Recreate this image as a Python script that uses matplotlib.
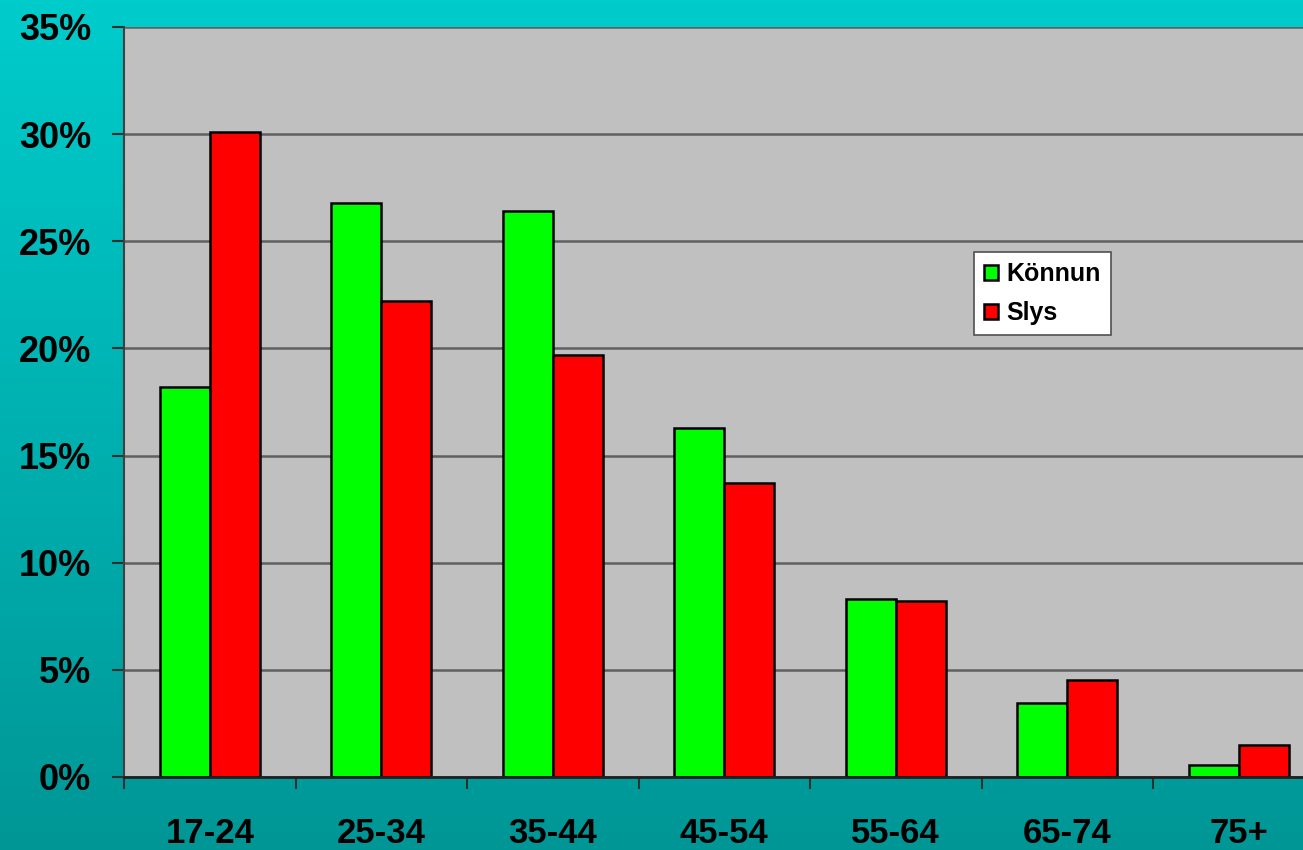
import numpy as np
import matplotlib
matplotlib.use("Agg")
import matplotlib.pyplot as plt
from matplotlib.ticker import FixedLocator, FixedFormatter

categories = ["17-24", "25-34", "35-44", "45-54", "55-64", "65-74", "75+"]
konnun = [18.2, 26.8, 26.4, 16.3, 8.3, 3.45, 0.55]
slys = [30.1, 22.2, 19.7, 13.7, 8.2, 4.55, 1.5]
yticks = [0, 5, 10, 15, 20, 25, 30, 35]
ytick_labels = [f"{v}%" for v in yticks]

plt.rcParams['font.family'] = ['Liberation Sans', 'DejaVu Sans']

W, H = 1303, 850
fig = plt.figure(figsize=(W / 100, H / 100), dpi=100)

# gradient background
bg = fig.add_axes([0, 0, 1, 1], zorder=-10)
top = np.array([0, 204, 204]) / 255
bot = np.array([0, 150, 150]) / 255
t = np.linspace(0, 1, 256)[:, None]
grad = top[None, :] * (1 - t) + bot[None, :] * t
bg.imshow(grad[:, None, :], aspect='auto', extent=[0, 1, 0, 1])
bg.axis('off')

left = 124 / W
bottom = (H - 777) / H
height = 750 / H
ax = fig.add_axes([left, bottom, 1 - left, height])
ax.set_facecolor('#c0c0c0')

x = np.arange(len(categories))
bw = 50 / 171.5
ax.bar(x - bw / 2, konnun, width=bw, color='#00ff00', edgecolor='black', linewidth=1.8, label='Könnun', zorder=3)
ax.bar(x + bw / 2, slys, width=bw, color='#ff0000', edgecolor='black', linewidth=1.8, label='Slys', zorder=3)

ax.set_ylim(0, 35)
ax.set_xlim(-0.5, (1303 - 124) / 171.5 - 0.5)

ax.yaxis.set_major_locator(FixedLocator(yticks))
ax.yaxis.set_major_formatter(FixedFormatter(ytick_labels))
ax.grid(axis='y', color='#606060', linewidth=1.8, zorder=1)
ax.set_axisbelow(True)

ax.xaxis.set_major_locator(FixedLocator(np.arange(len(categories) + 1) - 0.5))
ax.xaxis.set_major_formatter(FixedFormatter([""] * (len(categories) + 1)))
ax.xaxis.set_minor_locator(FixedLocator(x))
ax.xaxis.set_minor_formatter(FixedFormatter(categories))

ax.tick_params(axis='y', which='major', direction='out', length=8.6, width=1.5, color='#303030',
               labelsize=26, pad=15)
ax.tick_params(axis='x', which='major', direction='out', length=8.6, width=1.5, color='#303030')
ax.tick_params(axis='x', which='minor', length=0, labelsize=25, pad=29)
for lbl in ax.get_yticklabels() + ax.get_xticklabels(minor=True):
    lbl.set_fontweight('bold')

for s in ['top', 'right']:
    ax.spines[s].set_visible(False)
ax.spines['left'].set_color('#404040')
ax.spines['left'].set_linewidth(1.5)
ax.spines['bottom'].set_color('#202020')
ax.spines['bottom'].set_linewidth(2)
ax.spines['bottom'].set_zorder(4)

leg = ax.legend(loc='upper left', bbox_to_anchor=(974 / W, 1 - 252 / H), bbox_transform=fig.transFigure,
                prop={'weight': 'bold', 'size': 18}, frameon=True, fancybox=False,
                edgecolor='#505050', facecolor='white', framealpha=1,
                handlelength=0.55, handleheight=0.55, handletextpad=0.35,
                borderpad=0.4, labelspacing=0.6, borderaxespad=0)
leg.get_frame().set_linewidth(1.2)

fig.savefig("out.png", dpi=100)
